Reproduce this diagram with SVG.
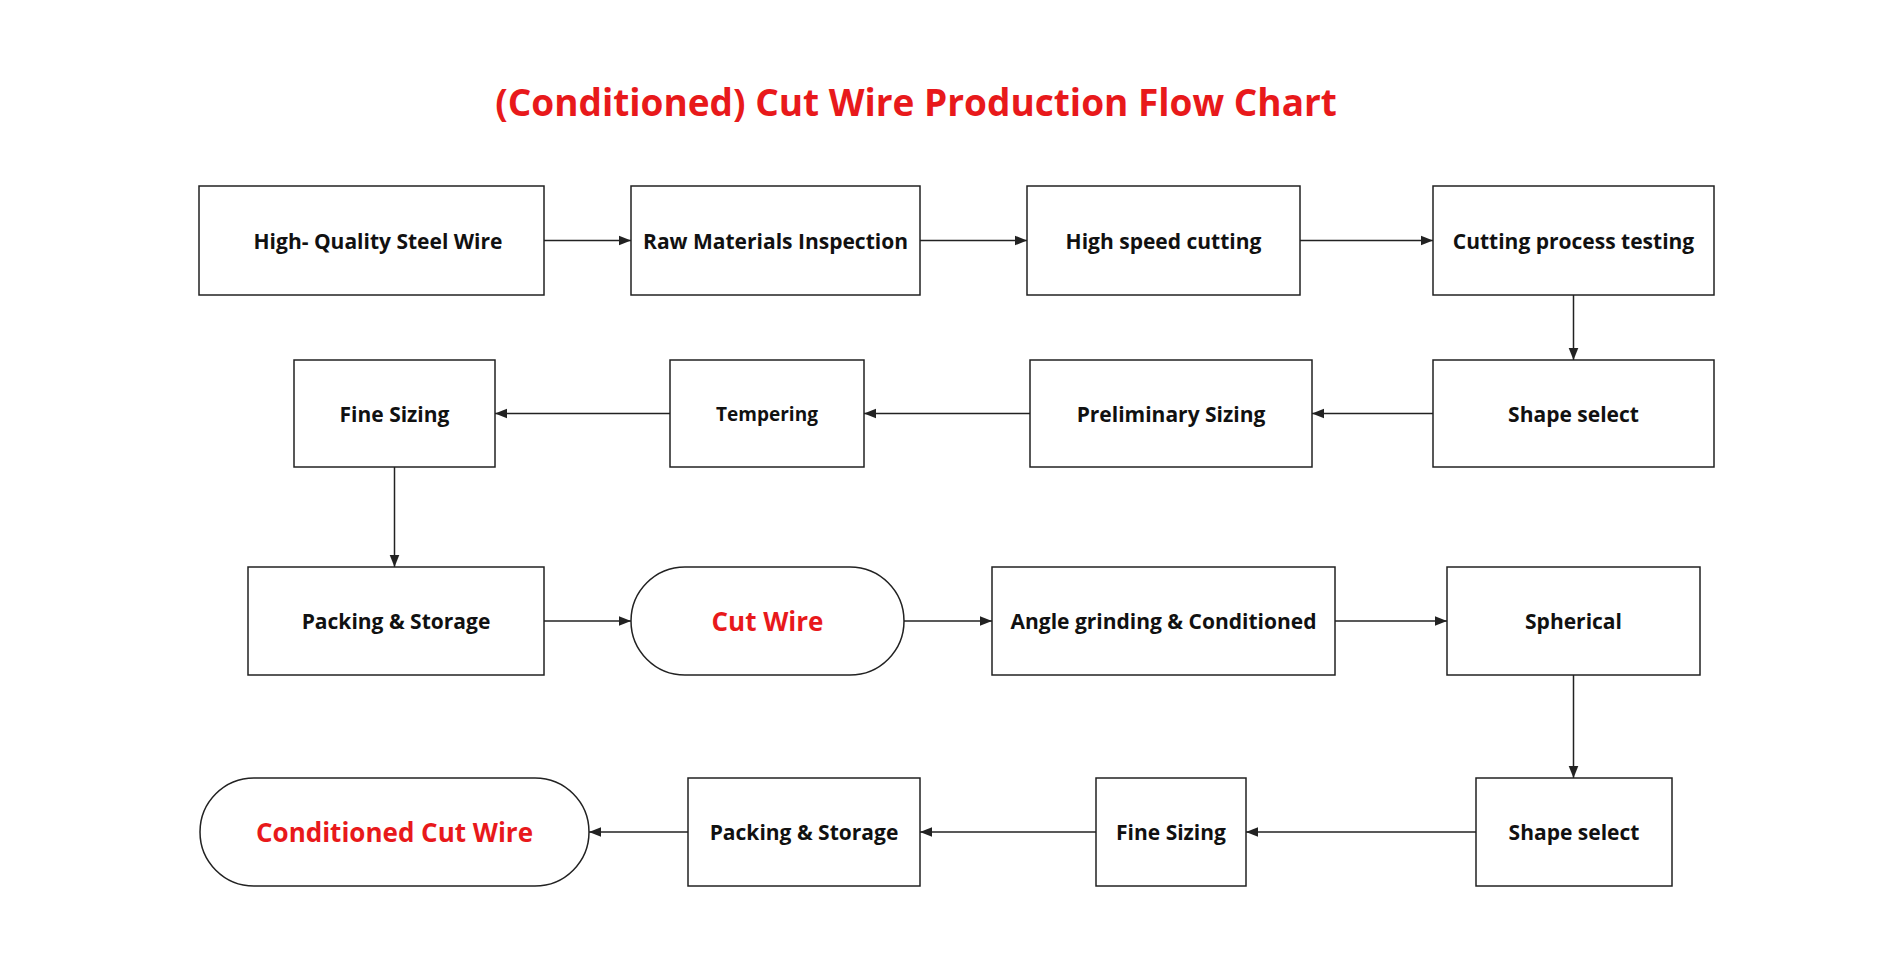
<svg xmlns="http://www.w3.org/2000/svg" width="1903" height="954" viewBox="0 0 1903 954">
<defs>
<style>
.b{fill:#fff;stroke:#222;stroke-width:1.5}
.t{font-family:"Open Sans","Liberation Sans",sans-serif;font-weight:bold;font-size:21px;fill:#111;text-anchor:middle;dominant-baseline:central}
.r{fill:#e8191b;font-size:26px}
.c{stroke:#222;stroke-width:1.5;fill:none;marker-end:url(#a)}
</style>
<marker id="a" viewBox="0 0 10 10" refX="10" refY="5" markerWidth="8" markerHeight="8" orient="auto"><path d="M0,1 L10,5 L0,9z" fill="#222"/></marker>
</defs>
<rect width="1903" height="954" fill="#fff"/>
<text x="916" y="101" class="t" style="font-size:37px;fill:#e8191b">(Conditioned)   Cut Wire Production Flow Chart</text>
<g id="connectors">
<path class="c" d="M544,240.5H631"/>
<path class="c" d="M920,240.5H1027"/>
<path class="c" d="M1300,240.5H1433"/>
<path class="c" d="M1573.5,295V360"/>
<path class="c" d="M1433,413.5H1312"/>
<path class="c" d="M1030,413.5H864"/>
<path class="c" d="M670,413.5H495"/>
<path class="c" d="M394.5,467V567"/>
<path class="c" d="M544,621H631"/>
<path class="c" d="M904,621H992"/>
<path class="c" d="M1335,621H1447"/>
<path class="c" d="M1573.5,675V778"/>
<path class="c" d="M1476,832H1246"/>
<path class="c" d="M1096,832H920"/>
<path class="c" d="M688,832H589"/>
</g>
<g id="n1"><rect class="b" x="199" y="186" width="345" height="109"/><text class="t" x="378" y="241">High- Quality Steel Wire</text></g>
<g id="n2"><rect class="b" x="631" y="186" width="289" height="109"/><text class="t" x="775.5" y="241">Raw Materials Inspection</text></g>
<g id="n3"><rect class="b" x="1027" y="186" width="273" height="109"/><text class="t" x="1163.5" y="241">High speed cutting</text></g>
<g id="n4"><rect class="b" x="1433" y="186" width="281" height="109"/><text class="t" x="1573.5" y="241">Cutting process testing</text></g>
<g id="n5"><rect class="b" x="1433" y="360" width="281" height="107"/><text class="t" x="1573.5" y="414">Shape select</text></g>
<g id="n6"><rect class="b" x="1030" y="360" width="282" height="107"/><text class="t" x="1171" y="414">Preliminary Sizing</text></g>
<g id="n7"><rect class="b" x="670" y="360" width="194" height="107"/><text class="t" x="767" y="414" style="font-size:19px">Tempering</text></g>
<g id="n8"><rect class="b" x="294" y="360" width="201" height="107"/><text class="t" x="394.5" y="414">Fine Sizing</text></g>
<g id="n9"><rect class="b" x="248" y="567" width="296" height="108"/><text class="t" x="396" y="621">Packing &amp; Storage</text></g>
<g id="n10"><rect class="b" x="631" y="567" width="273" height="108" rx="54"/><text class="t r" x="767.5" y="621">Cut Wire</text></g>
<g id="n11"><rect class="b" x="992" y="567" width="343" height="108"/><text class="t" x="1163.5" y="621">Angle grinding &amp; Conditioned</text></g>
<g id="n12"><rect class="b" x="1447" y="567" width="253" height="108"/><text class="t" x="1573.5" y="621">Spherical</text></g>
<g id="n13"><rect class="b" x="1476" y="778" width="196" height="108"/><text class="t" x="1574" y="832">Shape select</text></g>
<g id="n14"><rect class="b" x="1096" y="778" width="150" height="108"/><text class="t" x="1171" y="832">Fine Sizing</text></g>
<g id="n15"><rect class="b" x="688" y="778" width="232" height="108"/><text class="t" x="804" y="832">Packing &amp; Storage</text></g>
<g id="n16"><rect class="b" x="200" y="778" width="389" height="108" rx="54"/><text class="t r" x="394.5" y="832">Conditioned Cut Wire</text></g>
</svg>
